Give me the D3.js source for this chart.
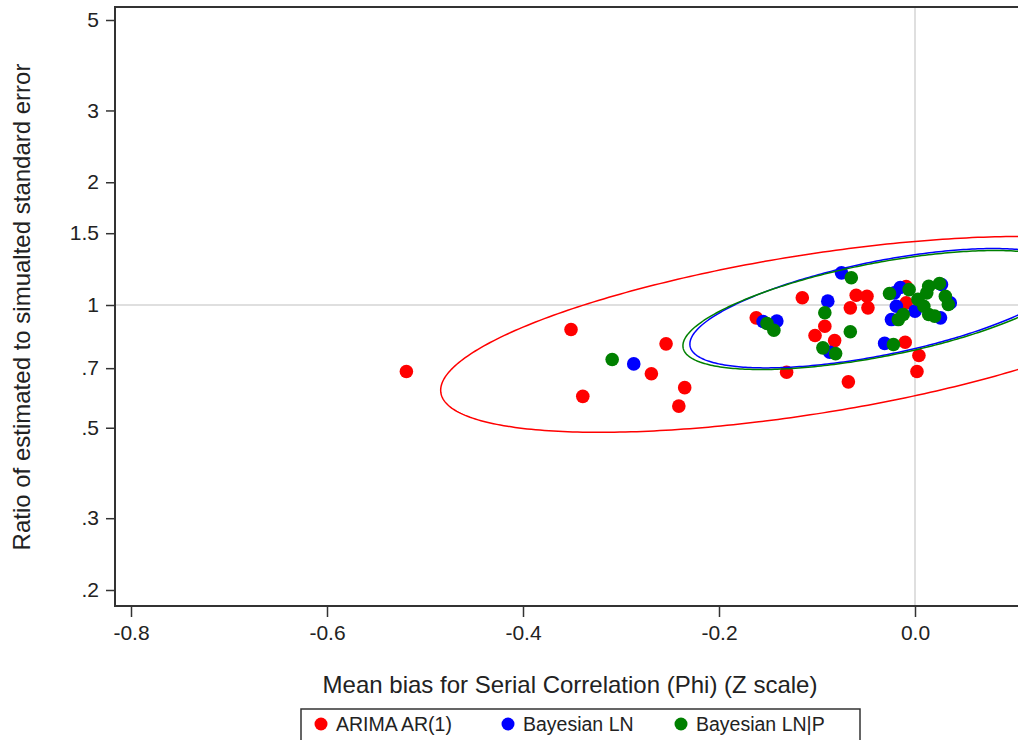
<!DOCTYPE html>
<html>
<head>
<meta charset="utf-8">
<script src="https://cdn.jsdelivr.net/npm/d3@7"></script>
<style>
  body { margin: 0; background: #fff; }
  svg { display: block; font-family: "Liberation Sans", Arial, sans-serif; }
</style>
</head>
<body>
<div id="chart"></div>
<script>
// [phi bias, ratio] per model
var arimaPoints = [
  [-0.519, 0.687], [-0.351, 0.871], [-0.339, 0.597], [-0.254, 0.803], [-0.269, 0.678],
  [-0.235, 0.627], [-0.241, 0.565], [-0.115, 1.042], [-0.162, 0.930], [-0.092, 0.887],
  [-0.102, 0.842], [-0.082, 0.818], [-0.131, 0.684], [-0.068, 0.648], [-0.066, 0.984],
  [-0.060, 1.057], [-0.049, 1.051], [-0.048, 0.984], [-0.009, 1.110], [-0.009, 1.012],
  [-0.010, 0.810], [0.004, 0.752], [0.002, 0.687]
];
var lnPoints = [
  [-0.287, 0.717], [-0.075, 1.199], [-0.089, 1.022], [-0.141, 0.913], [-0.155, 0.911],
  [-0.087, 0.766], [-0.031, 0.805], [-0.024, 0.921], [-0.021, 1.071], [-0.019, 0.993],
  [0.000, 0.966], [0.026, 0.930], [0.027, 1.123], [0.036, 1.012], [-0.015, 1.104]
];
var lnpPoints = [
  [-0.309, 0.735], [-0.065, 1.166], [-0.092, 0.957], [-0.151, 0.901], [-0.144, 0.867],
  [-0.066, 0.860], [-0.094, 0.785], [-0.081, 0.760], [-0.026, 1.067], [-0.006, 1.091],
  [0.014, 1.112], [0.025, 1.129], [0.003, 1.032], [0.009, 0.993], [-0.012, 0.948],
  [-0.017, 0.921], [0.014, 0.948], [0.020, 0.939], [0.034, 1.003], [0.031, 1.051],
  [-0.022, 0.800], [0.012, 1.071]
];

// confidence ellipses: mean phi, mean ratio, sd phi, sd log ratio, correlation
var ellipsePhiMean = [-0.107, -0.0357, -0.0378];
var ellipseRatioMean = [0.847, 0.982, 0.972];
var ellipsePhiSd = [0.377, 0.194, 0.199];
var ellipseLogSd = [0.553, 0.337, 0.336];
var ellipseRho = [0.57, 0.6, 0.6];

var seriesNames = ["ARIMA AR(1)", "Bayesian LN", "Bayesian LN|P"];
var seriesColors = ["#ff0000", "#0000ff", "#008000"];
var xTicks = [-0.8, -0.6, -0.4, -0.2, 0.0];
var yTicks = [0.2, 0.3, 0.5, 0.7, 1, 1.5, 2, 3, 5];
var yTickLabels = [".2", ".3", ".5", ".7", "1", "1.5", "2", "3", "5"];

var width = 1018, height = 740;
var plotLeft = 115, plotTop = 7, plotBottom = 606, plotRight = 1100;

var svg = d3.select("#chart").append("svg")
  .attr("width", width).attr("height", height);

var x = d3.scaleLinear().domain([-0.8, 0]).range([131, 915]);
var y = d3.scaleLog().domain([0.2, 5]).range([590, 20]);

svg.append("clipPath").attr("id", "plotclip")
  .append("rect").attr("x", plotLeft).attr("y", plotTop)
  .attr("width", plotRight - plotLeft).attr("height", plotBottom - plotTop);

var plot = svg.append("g").attr("clip-path", "url(#plotclip)");

// reference lines
plot.append("line")
  .attr("x1", x(0)).attr("x2", x(0)).attr("y1", plotTop).attr("y2", plotBottom)
  .attr("stroke", "#d4d4d4").attr("stroke-width", 1.5);
plot.append("line")
  .attr("x1", plotLeft).attr("x2", plotRight).attr("y1", y(1)).attr("y2", y(1))
  .attr("stroke", "#d4d4d4").attr("stroke-width", 1.5);

var allPoints = [arimaPoints, lnPoints, lnpPoints];
allPoints.forEach(function(pts, i) {
  plot.append("g").selectAll("circle").data(pts).enter().append("circle")
    .attr("cx", function(d) { return x(d[0]); })
    .attr("cy", function(d) { return y(d[1]); })
    .attr("r", 6.8)
    .attr("fill", seriesColors[i]);
});

var line = d3.line()
  .x(function(d) { return x(d[0]); })
  .y(function(d) { return y(d[1]); })
  .curve(d3.curveLinearClosed);

ellipsePhiMean.forEach(function(m, i) {
  var rho = ellipseRho[i];
  var pts = d3.range(0, 360, 1).map(function(deg) {
    var t = deg * Math.PI / 180;
    var phi = m + ellipsePhiSd[i] * Math.cos(t);
    var lr = Math.log(ellipseRatioMean[i]) +
      ellipseLogSd[i] * (rho * Math.cos(t) + Math.sqrt(1 - rho * rho) * Math.sin(t));
    return [phi, Math.exp(lr)];
  });
  plot.append("path").datum(pts)
    .attr("d", line)
    .attr("fill", "none")
    .attr("stroke", seriesColors[i])
    .attr("stroke-width", 1.5);
});

// frame
svg.append("path")
  .attr("d", "M" + plotRight + "," + plotTop + "H" + plotLeft + "V" + plotBottom + "H" + plotRight)
  .attr("fill", "none").attr("stroke", "#333").attr("stroke-width", 2);

// axes
var xAxis = svg.append("g").attr("transform", "translate(0," + plotBottom + ")")
  .call(d3.axisBottom(x).tickValues(xTicks)
    .tickFormat(function(d) { return d3.format(".1f")(d).replace("\u2212", "-"); })
    .tickSize(11).tickPadding(8));
var yAxis = svg.append("g").attr("transform", "translate(" + plotLeft + ",0)")
  .call(d3.axisLeft(y).tickValues(yTicks)
    .tickFormat(function(d, i) { return yTickLabels[i]; })
    .tickSize(9).tickPadding(7));
[xAxis, yAxis].forEach(function(a) {
  a.select(".domain").remove();
  a.selectAll(".tick line").attr("stroke", "#333").attr("stroke-width", 1.5);
  a.selectAll(".tick text").attr("fill", "#222")
    .style("font-size", "21px").style("font-family", "'Liberation Sans', Arial, sans-serif");
});

svg.append("text")
  .attr("x", 570).attr("y", 693)
  .attr("text-anchor", "middle")
  .attr("fill", "#222").style("font-size", "24px")
  .text("Mean bias for Serial Correlation (Phi) (Z scale)");

svg.append("text")
  .attr("transform", "translate(30,307) rotate(-90)")
  .attr("text-anchor", "middle")
  .attr("fill", "#222").style("font-size", "24px")
  .text("Ratio of estimated to simualted standard error");

// legend
var legend = svg.append("g");
legend.append("rect")
  .attr("x", 301).attr("y", 709).attr("width", 559).attr("height", 40)
  .attr("fill", "#fff").attr("stroke", "#333").attr("stroke-width", 1.5);
var legendX = [321, 508, 681];
seriesNames.forEach(function(name, i) {
  legend.append("circle").attr("cx", legendX[i]).attr("cy", 724).attr("r", 6.5)
    .attr("fill", seriesColors[i]);
  legend.append("text").attr("x", legendX[i] + 15).attr("y", 731)
    .attr("fill", "#222").style("font-size", "19.5px").text(name);
});
</script>
</body>
</html>
